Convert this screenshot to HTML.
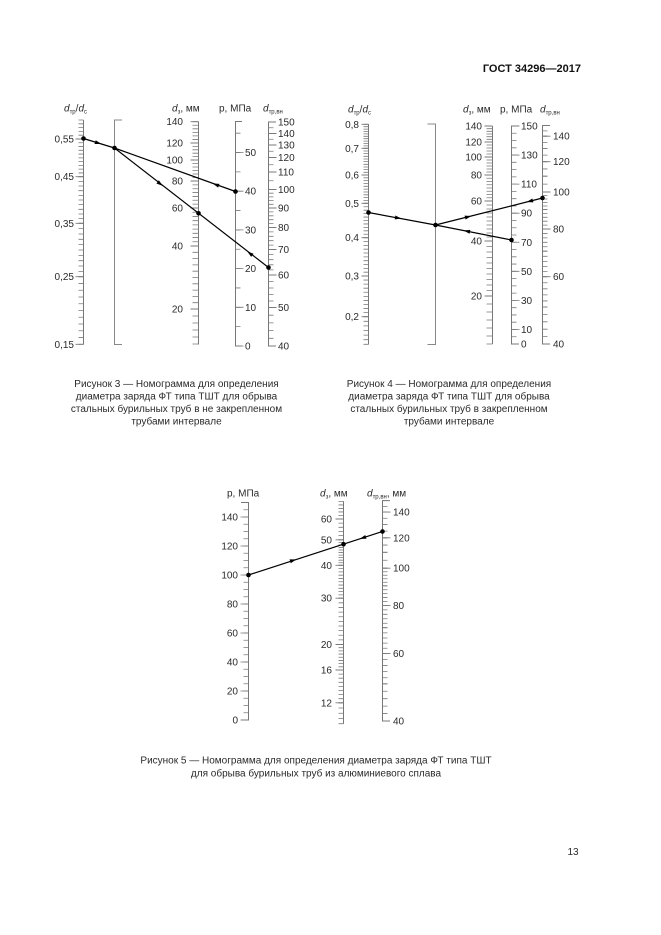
<!DOCTYPE html>
<html><head><meta charset="utf-8"><style>
html,body{margin:0;padding:0;background:#fff}
svg{display:block}
</style></head><body>
<svg width="661" height="935" viewBox="0 0 661 935" xmlns="http://www.w3.org/2000/svg">
<rect width="661" height="935" fill="#fff"/>

<!-- header -->
<text x="581" y="72" text-anchor="end" font-family="Liberation Sans, Arial, sans-serif" font-size="11" font-weight="bold" fill="#111">ГОСТ 34296—2017</text>

<!-- ===== AXIS LINES ===== -->
<g fill="none" stroke="#777" stroke-width="1">
  <!-- fig3 -->
  <path d="M83.5 120V344.5"/>
  <path d="M122 120H114.5V344.5H122" stroke="#888"/>
  <path d="M198.5 121.5V344.5"/>
  <path d="M242 121.5H235.5V346H242"/>
  <path d="M276 122H268.5V346H276"/>
  <!-- fig4 -->
  <path d="M368.5 124V344.5"/>
  <path d="M427.5 124H435.5V344.5H427.5" stroke="#888"/>
  <path d="M492.5 126V344"/>
  <path d="M519 126H511.5V344H519"/>
  <path d="M550 125.5H542.5V344H550"/>
  <!-- fig5 -->
  <path d="M241 502.5H248.5V720H241"/>
  <path d="M343.5 501.4V723.7"/>
  <path d="M390 500.6H382.5V721H390"/>
</g>

<!-- ===== TICKS ===== -->
<g fill="none" stroke="#7a7a7a">
  <!-- fig3 A1 -->
  <line x1="81" y1="119.6" x2="81" y2="139.4" stroke-width="5" stroke-dasharray="0.8 3.0"/>
  <line x1="81" y1="138.6" x2="81" y2="177.1" stroke-width="5" stroke-dasharray="0.8 2.97"/>
  <line x1="81" y1="176.3" x2="81" y2="223.7" stroke-width="5" stroke-dasharray="0.8 3.86"/>
  <line x1="81" y1="222.9" x2="81" y2="277.1" stroke-width="5" stroke-dasharray="0.8 4.54"/>
  <line x1="81" y1="276.3" x2="81" y2="344.7" stroke-width="5" stroke-dasharray="0.8 5.96"/>
  <path d="M75.5 139h8M75.5 176.7h8M75.5 223.3h8M75.5 276.7h8M75.5 344.3h8" stroke-width="0.9"/>
  <!-- fig3 A3 -->
  <line x1="195.5" y1="121.3" x2="195.5" y2="143.4" stroke-width="6" stroke-dasharray="0.8 2.75"/>
  <line x1="195.5" y1="142.6" x2="195.5" y2="160.4" stroke-width="6" stroke-dasharray="0.8 2.6"/>
  <line x1="195.5" y1="159.6" x2="195.5" y2="181.4" stroke-width="6" stroke-dasharray="0.8 2.7"/>
  <line x1="195.5" y1="180.6" x2="195.5" y2="208.4" stroke-width="6" stroke-dasharray="0.8 3.057"/>
  <line x1="195.5" y1="207.6" x2="195.5" y2="246.4" stroke-width="6" stroke-dasharray="0.8 3.422"/>
  <line x1="195.5" y1="245.6" x2="195.5" y2="309.4" stroke-width="6" stroke-dasharray="0.8 5.5"/>
  <line x1="195.5" y1="308.6" x2="195.5" y2="344.4" stroke-width="6" stroke-dasharray="0.8 6.2"/>
  <path d="M190.5 121.7h8M190.5 143h8M190.5 160h8M190.5 181h8M190.5 208h8M190.5 246h8M190.5 309h8" stroke-width="0.9"/>
  <!-- fig3 A4 -->
  <line x1="238" y1="132.8" x2="238" y2="346.4" stroke-width="5" stroke-dasharray="0.8 18.545"/>
  <line x1="239.5" y1="152.1" x2="239.5" y2="346.4" stroke-width="8" stroke-dasharray="0.8 37.9"/>
  <!-- fig3 A5 -->
  <line x1="271" y1="121.6" x2="271" y2="133.9" stroke-width="5" stroke-dasharray="0.8 4.95"/>
  <line x1="271" y1="133.1" x2="271" y2="145.4" stroke-width="5" stroke-dasharray="0.8 4.95"/>
  <line x1="271" y1="144.6" x2="271" y2="157.9" stroke-width="5" stroke-dasharray="0.8 5.45"/>
  <line x1="271" y1="157.1" x2="271" y2="172.4" stroke-width="5" stroke-dasharray="0.8 6.45"/>
  <line x1="271" y1="171.6" x2="271" y2="189.9" stroke-width="5" stroke-dasharray="0.8 7.95"/>
  <line x1="271" y1="189.1" x2="271" y2="208.4" stroke-width="5" stroke-dasharray="0.8 2.9"/>
  <line x1="271" y1="207.6" x2="271" y2="227.9" stroke-width="5" stroke-dasharray="0.8 3.1"/>
  <line x1="271" y1="227.1" x2="271" y2="249.9" stroke-width="5" stroke-dasharray="0.8 3.6"/>
  <line x1="271" y1="249.1" x2="271" y2="275.4" stroke-width="5" stroke-dasharray="0.8 4.3"/>
  <line x1="271" y1="274.6" x2="271" y2="307.9" stroke-width="5" stroke-dasharray="0.8 5.7"/>
  <line x1="271" y1="307.1" x2="271" y2="346.4" stroke-width="5" stroke-dasharray="0.8 6.9"/>
  <path d="M268.5 133.5h8M268.5 145h8M268.5 157.5h8M268.5 172h8M268.5 189.5h8M268.5 208h8M268.5 227.5h8M268.5 249.5h8M268.5 275h8M268.5 307.5h8" stroke-width="0.9"/>

  <!-- fig4 A1 -->
  <line x1="366" y1="123.9" x2="366" y2="148.7" stroke-width="5" stroke-dasharray="0.8 1.6"/>
  <line x1="366" y1="147.9" x2="366" y2="175.4" stroke-width="5" stroke-dasharray="0.8 1.87"/>
  <line x1="366" y1="174.6" x2="366" y2="203.7" stroke-width="5" stroke-dasharray="0.8 2.03"/>
  <line x1="366" y1="202.9" x2="366" y2="238.1" stroke-width="5" stroke-dasharray="0.8 2.64"/>
  <line x1="366" y1="237.3" x2="366" y2="276.4" stroke-width="5" stroke-dasharray="0.8 3.03"/>
  <line x1="366" y1="275.6" x2="366" y2="317.1" stroke-width="5" stroke-dasharray="0.8 3.27"/>
  <line x1="366" y1="316.3" x2="366" y2="344.7" stroke-width="5" stroke-dasharray="0.8 3.8"/>
  <path d="M361.5 124.3h7M361.5 148.3h7M361.5 175h7M361.5 203.3h7M361.5 237.7h7M361.5 276h7M361.5 316.7h7" stroke-width="0.9"/>
  <!-- fig4 A3 -->
  <line x1="489.5" y1="125.6" x2="489.5" y2="142.4" stroke-width="6" stroke-dasharray="0.8 1.867"/>
  <line x1="489.5" y1="141.6" x2="489.5" y2="157.4" stroke-width="6" stroke-dasharray="0.8 2.2"/>
  <line x1="489.5" y1="156.6" x2="489.5" y2="175.4" stroke-width="6" stroke-dasharray="0.8 2.2"/>
  <line x1="489.5" y1="174.6" x2="489.5" y2="201.4" stroke-width="6" stroke-dasharray="0.8 2.45"/>
  <line x1="489.5" y1="200.6" x2="489.5" y2="241.4" stroke-width="6" stroke-dasharray="0.8 3.2"/>
  <line x1="489.5" y1="240.6" x2="489.5" y2="296.4" stroke-width="6" stroke-dasharray="0.8 4.7"/>
  <line x1="489.5" y1="295.6" x2="489.5" y2="344.4" stroke-width="6" stroke-dasharray="0.8 7.2"/>
  <path d="M484.5 126h8M484.5 142h8M484.5 157h8M484.5 175h8M484.5 201h8M484.5 241h8M484.5 296h8" stroke-width="0.9"/>
  <!-- fig4 A4 -->
  <line x1="514" y1="125.6" x2="514" y2="344.4" stroke-width="5" stroke-dasharray="0.8 6.4667"/>
  <line x1="515.5" y1="125.6" x2="515.5" y2="329.9" stroke-width="8" stroke-dasharray="0.8 28.267"/>
  <!-- fig4 A5 -->
  <line x1="545" y1="125.1" x2="545" y2="136.6" stroke-width="5" stroke-dasharray="0.8 4.55"/>
  <line x1="545" y1="135.8" x2="545" y2="148.9" stroke-width="5" stroke-dasharray="0.8 5.35"/>
  <line x1="545" y1="148.1" x2="545" y2="162.1" stroke-width="5" stroke-dasharray="0.8 5.8"/>
  <line x1="545" y1="161.3" x2="545" y2="176.6" stroke-width="5" stroke-dasharray="0.8 6.45"/>
  <line x1="545" y1="175.8" x2="545" y2="192.4" stroke-width="5" stroke-dasharray="0.8 7.1"/>
  <line x1="545" y1="191.6" x2="545" y2="209.9" stroke-width="5" stroke-dasharray="0.8 2.7"/>
  <line x1="545" y1="209.1" x2="545" y2="229.4" stroke-width="5" stroke-dasharray="0.8 3.1"/>
  <line x1="545" y1="228.6" x2="545" y2="251.6" stroke-width="5" stroke-dasharray="0.8 3.64"/>
  <line x1="545" y1="250.8" x2="545" y2="277.1" stroke-width="5" stroke-dasharray="0.8 4.3"/>
  <line x1="545" y1="276.3" x2="545" y2="307.4" stroke-width="5" stroke-dasharray="0.8 5.26"/>
  <line x1="545" y1="306.6" x2="545" y2="344.4" stroke-width="5" stroke-dasharray="0.8 6.6"/>
  <path d="M542.5 136.2h8M542.5 161.7h8M542.5 192h8M542.5 229h8M542.5 276.7h8" stroke-width="0.9"/>

  <!-- fig5 p -->
  <line x1="246" y1="502.1" x2="246" y2="720.4" stroke-width="5" stroke-dasharray="0.8 6.45"/>
  <line x1="244.5" y1="516.6" x2="244.5" y2="720.4" stroke-width="8" stroke-dasharray="0.8 28.2"/>
  <!-- fig5 d3 -->
  <line x1="341" y1="501.0" x2="341" y2="519.4" stroke-width="5" stroke-dasharray="0.8 2.72"/>
  <line x1="341" y1="518.6" x2="341" y2="540.2" stroke-width="5" stroke-dasharray="0.8 3.36"/>
  <line x1="341" y1="539.4" x2="341" y2="565.7" stroke-width="5" stroke-dasharray="0.8 1.75"/>
  <line x1="341" y1="564.9" x2="341" y2="598.6" stroke-width="5" stroke-dasharray="0.8 2.49"/>
  <line x1="341" y1="597.8" x2="341" y2="644.9" stroke-width="5" stroke-dasharray="0.8 3.83"/>
  <line x1="341" y1="644.1" x2="341" y2="670.4" stroke-width="5" stroke-dasharray="0.8 2.3875"/>
  <line x1="341" y1="669.6" x2="341" y2="703.2" stroke-width="5" stroke-dasharray="0.8 3.3"/>
  <line x1="341" y1="702.4" x2="341" y2="724.1" stroke-width="5" stroke-dasharray="0.8 4.425"/>
  <path d="M335.5 519h8M335.5 539.8h8M335.5 565.3h8M335.5 598.2h8M335.5 644.5h8M335.5 670h8M335.5 702.8h8" stroke-width="0.9"/>
  <!-- fig5 dtr -->
  <line x1="385" y1="500.2" x2="385" y2="512.5" stroke-width="5" stroke-dasharray="0.8 4.95"/>
  <line x1="385" y1="511.7" x2="385" y2="524.8" stroke-width="5" stroke-dasharray="0.8 5.35"/>
  <line x1="385" y1="524.0" x2="385" y2="538.2" stroke-width="5" stroke-dasharray="0.8 5.9"/>
  <line x1="385" y1="537.4" x2="385" y2="552.7" stroke-width="5" stroke-dasharray="0.8 6.45"/>
  <line x1="385" y1="551.9" x2="385" y2="568.6" stroke-width="5" stroke-dasharray="0.8 7.15"/>
  <line x1="385" y1="567.8" x2="385" y2="586.2" stroke-width="5" stroke-dasharray="0.8 2.72"/>
  <line x1="385" y1="585.4" x2="385" y2="605.8" stroke-width="5" stroke-dasharray="0.8 3.12"/>
  <line x1="385" y1="605.0" x2="385" y2="628.1" stroke-width="5" stroke-dasharray="0.8 3.66"/>
  <line x1="385" y1="627.3" x2="385" y2="653.8" stroke-width="5" stroke-dasharray="0.8 4.34"/>
  <line x1="385" y1="653.0" x2="385" y2="684.2" stroke-width="5" stroke-dasharray="0.8 5.28"/>
  <line x1="385" y1="683.4" x2="385" y2="721.4" stroke-width="5" stroke-dasharray="0.8 6.64"/>
  <path d="M382.5 512.1h8M382.5 537.8h8M382.5 568.2h8M382.5 605.4h8M382.5 653.4h8" stroke-width="0.9"/>
</g>

<!-- ===== DATA LINES ===== -->
<g stroke="#000" stroke-width="1.2" fill="none">
  <path d="M83.5 138.5L114.5 148L235.5 191.5"/>
  <path d="M114.5 148L268.5 267.5"/>
  <path d="M368.5 212.5L435.5 225L511.5 240"/>
  <path d="M435.5 225L542.5 198"/>
  <path d="M248.5 575L382.5 531.5"/>
</g>
<g fill="#000">
  <circle cx="83.5" cy="138.5" r="2.3"/>
  <circle cx="114.5" cy="148" r="2.3"/>
  <circle cx="235.5" cy="191.5" r="2.3"/>
  <circle cx="198.5" cy="213.3" r="2.3"/>
  <circle cx="268.5" cy="267.5" r="2.3"/>
  <circle cx="368.5" cy="212.5" r="2.3"/>
  <circle cx="435.5" cy="225" r="2.3"/>
  <circle cx="511.5" cy="240" r="2.3"/>
  <circle cx="542.5" cy="198" r="2.3"/>
  <circle cx="248.5" cy="575" r="2.3"/>
  <circle cx="343.5" cy="544.2" r="2.3"/>
  <circle cx="382.5" cy="531.5" r="2.3"/>
  <!-- arrows -->
  <polygon points="3.5,0 -3,-2 -3,2" transform="translate(98,143) rotate(17.3)"/>
  <polygon points="3.5,0 -3,-2 -3,2" transform="translate(216,184.7) rotate(199.8)"/>
  <polygon points="3.5,0 -3,-2 -3,2" transform="translate(160,183.7) rotate(37.8)"/>
  <polygon points="3.5,0 -3,-2 -3,2" transform="translate(250,253.5) rotate(217.8)"/>
  <polygon points="3.5,0 -3,-2 -3,2" transform="translate(398,218) rotate(10.6)"/>
  <polygon points="3.5,0 -3,-2 -3,2" transform="translate(467,231.2) rotate(191.2)"/>
  <polygon points="3.5,0 -3,-2 -3,2" transform="translate(468,216.8) rotate(-14.2)"/>
  <polygon points="3.5,0 -3,-2 -3,2" transform="translate(530,201.2) rotate(165.8)"/>
  <polygon points="3.5,0 -3,-2 -3,2" transform="translate(293,560.4) rotate(-18)"/>
  <polygon points="3.5,0 -3,-2 -3,2" transform="translate(363,537.8) rotate(162)"/>
</g>

<!-- ===== TEXT ===== -->
<g font-family="Liberation Sans, Arial, sans-serif" font-size="10" fill="#2a2a2a">
  <!-- fig3 titles -->
  <text x="64" y="111.5"><tspan font-style="italic">d</tspan><tspan font-size="6" dy="2">тр</tspan><tspan dy="-2">/</tspan><tspan font-style="italic">d</tspan><tspan font-size="6" dy="2">с</tspan></text>
  <text x="172" y="111.5"><tspan font-style="italic">d</tspan><tspan font-size="6" dy="2">з</tspan><tspan dy="-2">, мм</tspan></text>
  <text x="219" y="111.5">р, МПа</text>
  <text x="263" y="111.5"><tspan font-style="italic">d</tspan><tspan font-size="6" dy="2">тр,вн</tspan></text>
  <!-- fig3 A1 labels -->
  <g text-anchor="end">
    <text x="74" y="142.5">0,55</text>
    <text x="74" y="180.2">0,45</text>
    <text x="74" y="226.8">0,35</text>
    <text x="74" y="280.2">0,25</text>
    <text x="74" y="347.8">0,15</text>
    <!-- A3 -->
    <text x="183" y="125.2">140</text>
    <text x="183" y="146.5">120</text>
    <text x="183" y="163.5">100</text>
    <text x="183" y="184.5">80</text>
    <text x="183" y="211.5">60</text>
    <text x="183" y="249.5">40</text>
    <text x="183" y="312.5">20</text>
  </g>
  <!-- fig3 A4 -->
  <text x="245" y="156">50</text>
  <text x="245" y="194.7">40</text>
  <text x="245" y="233.4">30</text>
  <text x="245" y="272.1">20</text>
  <text x="245" y="310.8">10</text>
  <text x="245" y="349.5">0</text>
  <!-- fig3 A5 -->
  <text x="278" y="125.5">150</text>
  <text x="278" y="137">140</text>
  <text x="278" y="148.5">130</text>
  <text x="278" y="161">120</text>
  <text x="278" y="175.5">110</text>
  <text x="278" y="193">100</text>
  <text x="278" y="211.5">90</text>
  <text x="278" y="231">80</text>
  <text x="278" y="253">70</text>
  <text x="278" y="278.5">60</text>
  <text x="278" y="311">50</text>
  <text x="278" y="349.5">40</text>

  <!-- fig4 titles -->
  <text x="348" y="112.5"><tspan font-style="italic">d</tspan><tspan font-size="6" dy="2">тр</tspan><tspan dy="-2">/</tspan><tspan font-style="italic">d</tspan><tspan font-size="6" dy="2">с</tspan></text>
  <text x="463" y="112.5"><tspan font-style="italic">d</tspan><tspan font-size="6" dy="2">з</tspan><tspan dy="-2">, мм</tspan></text>
  <text x="500" y="112.5">р, МПа</text>
  <text x="540" y="112.5"><tspan font-style="italic">d</tspan><tspan font-size="6" dy="2">тр,вн</tspan></text>
  <g text-anchor="end">
    <text x="359" y="127.8">0,8</text>
    <text x="359" y="151.8">0,7</text>
    <text x="359" y="178.5">0,6</text>
    <text x="359" y="206.8">0,5</text>
    <text x="359" y="241.2">0,4</text>
    <text x="359" y="279.5">0,3</text>
    <text x="359" y="320.2">0,2</text>
    <text x="482" y="129.5">140</text>
    <text x="482" y="145.5">120</text>
    <text x="482" y="160.5">100</text>
    <text x="482" y="178.5">80</text>
    <text x="482" y="204.5">60</text>
    <text x="482" y="244.5">40</text>
    <text x="482" y="299.5">20</text>
  </g>
  <text x="521" y="129.5">150</text>
  <text x="521" y="158.6">130</text>
  <text x="521" y="187.7">110</text>
  <text x="521" y="216.7">90</text>
  <text x="521" y="245.8">70</text>
  <text x="521" y="274.9">50</text>
  <text x="521" y="303.9">30</text>
  <text x="521" y="333">10</text>
  <text x="521" y="347.5">0</text>
  <text x="553" y="139.7">140</text>
  <text x="553" y="165.2">120</text>
  <text x="553" y="195.5">100</text>
  <text x="553" y="232.5">80</text>
  <text x="553" y="280.2">60</text>
  <text x="553" y="347.5">40</text>

  <!-- fig5 titles -->
  <text x="227" y="496.5">р, МПа</text>
  <text x="320" y="496.5"><tspan font-style="italic">d</tspan><tspan font-size="6" dy="2">з</tspan><tspan dy="-2">, мм</tspan></text>
  <text x="367" y="496.5"><tspan font-style="italic">d</tspan><tspan font-size="6" dy="2">тр,вн</tspan><tspan dy="-2">, мм</tspan></text>
  <g text-anchor="end">
    <text x="238" y="520.5">140</text>
    <text x="238" y="549.5">120</text>
    <text x="238" y="578.5">100</text>
    <text x="238" y="607.5">80</text>
    <text x="238" y="636.5">60</text>
    <text x="238" y="665.5">40</text>
    <text x="238" y="694.5">20</text>
    <text x="238" y="723.5">0</text>
    <text x="332" y="522.5">60</text>
    <text x="332" y="543.3">50</text>
    <text x="332" y="568.8">40</text>
    <text x="332" y="601.7">30</text>
    <text x="332" y="648">20</text>
    <text x="332" y="673.5">16</text>
    <text x="332" y="706.3">12</text>
  </g>
  <text x="393" y="515.6">140</text>
  <text x="393" y="541.3">120</text>
  <text x="393" y="571.7">100</text>
  <text x="393" y="608.9">80</text>
  <text x="393" y="656.9">60</text>
  <text x="393" y="724.5">40</text>

  <!-- captions -->
  <g text-anchor="middle">
    <text x="176.5" y="387">Рисунок 3 — Номограмма для определения</text>
    <text x="176.5" y="399.5">диаметра заряда ФТ типа ТШТ для обрыва</text>
    <text x="176.5" y="412">стальных бурильных труб в не закрепленном</text>
    <text x="176.5" y="424.5">трубами интервале</text>
    <text x="449" y="387">Рисунок 4 — Номограмма для определения</text>
    <text x="449" y="399.5">диаметра заряда ФТ типа ТШТ для обрыва</text>
    <text x="449" y="412">стальных бурильных труб в закрепленном</text>
    <text x="449" y="424.5">трубами интервале</text>
    <text x="316" y="763.5">Рисунок 5 — Номограмма для определения диаметра заряда ФТ типа ТШТ</text>
    <text x="316" y="776.5">для обрыва бурильных труб из алюминиевого сплава</text>
    <text x="573" y="855">13</text>
  </g>
</g>
</svg>
</body></html>
